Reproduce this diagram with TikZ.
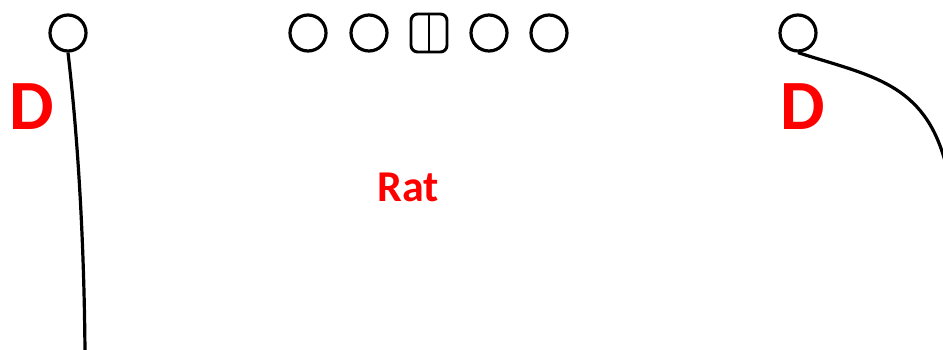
\documentclass[tikz,border=0pt]{standalone}
\usepackage{fontspec}
\setmainfont{Carlito}
\definecolor{labred}{RGB}{255,0,0}
\begin{document}
\begin{tikzpicture}[x=0.75pt,y=-0.75pt,
  ring/.style={draw=black,line width=2.4pt,circle,minimum size=27pt,inner sep=0pt},
  wire/.style={draw=black,line width=2.4pt},
  biglabel/.style={text=labred,font=\bfseries\fontsize{53}{53}\selectfont,inner sep=0pt},
  midlabel/.style={text=labred,font=\bfseries\fontsize{33}{33}\selectfont,inner sep=0pt}]
\useasboundingbox (0,0) rectangle (943,350);
\node[ring] (c1) at (68,33) {};
\node[ring] (c2) at (308,33) {};
\node[ring] (c3) at (369,33) {};
\node[draw=black,line width=2.2pt,rounded corners=5pt,minimum width=27pt,minimum height=28.5pt,inner sep=0pt] (sq) at (429,33) {};
\draw[line width=1.6pt] (sq.north) -- (sq.south);
\node[ring] (c4) at (489,33) {};
\node[ring] (c5) at (549,33) {};
\node[ring] (c6) at (798,33) {};
\coordinate (e1) at (85,352);
\coordinate (e2) at (946,165);
\draw[wire] (c1.south) .. controls (77,130) and (84,230) .. (e1);
\draw[wire] (c6.south) .. controls (870,76) and (925,82) .. (e2);
\node[biglabel] (d1) at (32,107) {D};
\node[biglabel] (d2) at (803,107) {D};
\node[midlabel] (rat) at (408,187) {Rat};
\end{tikzpicture}
\end{document}
